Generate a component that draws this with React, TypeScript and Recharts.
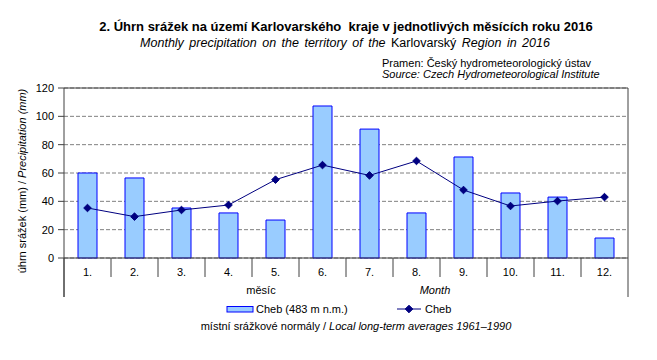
import React from 'react';
import { ComposedChart, Bar, Line, XAxis, YAxis, CartesianGrid } from 'recharts';

const months = ['1.', '2.', '3.', '4.', '5.', '6.', '7.', '8.', '9.', '10.', '11.', '12.'];
// Cheb 2016 monthly precipitation (mm)
const chebPrecip = [60, 56.5, 35.3, 31.8, 26.8, 107.3, 91, 31.8, 71.3, 45.9, 43, 14.1];
// local long-term averages 1961–1990 (mm)
const chebNormal = [35.3, 29.2, 33.9, 37.4, 55.3, 65.6, 58.3, 68.5, 48, 36.7, 40.2, 43];
const yTicks = [0, 20, 40, 60, 80, 100, 120];

const data = months.map((m, i) => ({ month: m, precip: chebPrecip[i], normal: chebNormal[i] }));

const W = 657;
const H = 360;
const PLOT = { left: 64, top: 88, right: 628, bottom: 258 };
const YAXIS_W = 40;
const XAXIS_H = 40;
const BW = (PLOT.right - PLOT.left) / months.length;
const FONT = '"Liberation Sans", Arial, sans-serif';
const FRAME = '#404040';

const MonthTick = (props: any) => {
  const { x, y, payload, index } = props;
  const lx = x - BW / 2;
  const rx = x + BW / 2;
  return (
    <g>
      {index > 0 && <line x1={lx} y1={y} x2={lx} y2={y + 19} stroke={FRAME} />}
      {index === 0 && <line x1={lx} y1={y} x2={lx} y2={y + 39} stroke={FRAME} />}
      {index === months.length - 1 && <line x1={rx} y1={y - 170} x2={rx} y2={y + 39} stroke={FRAME} />}
      <text x={x} y={y + 18} textAnchor="middle" fontSize={11} fontFamily={FONT} fill="#000">
        {payload.value}
      </text>
    </g>
  );
};

const Diamond = (props: any) => {
  const { cx, cy } = props;
  if (cx == null || cy == null) return null;
  const r = 3.8;
  return <polygon points={`${cx},${cy - r} ${cx + r},${cy} ${cx},${cy + r} ${cx - r},${cy}`} fill="#000080" stroke="#000080" />;
};

const App = () => {
  return (
    <div style={{ position: 'absolute', left: 0, top: 0, width: W, height: H, background: '#fff' }}>
      <ComposedChart
        width={W}
        height={H}
        data={data}
        margin={{ top: PLOT.top, right: W - PLOT.right, bottom: H - PLOT.bottom - XAXIS_H, left: PLOT.left - YAXIS_W }}
      >
        <CartesianGrid vertical={false} stroke="#808080" strokeDasharray="4 2" />
        <XAxis
          dataKey="month"
          height={XAXIS_H}
          tickSize={0}
          tickMargin={0}
          tick={<MonthTick />}
          axisLine={{ stroke: FRAME }}
          interval={0}
        />
        <YAxis
          width={YAXIS_W}
          domain={[0, 120]}
          ticks={yTicks}
          tickSize={6}
          tickMargin={4}
          tickLine={{ stroke: FRAME }}
          axisLine={{ stroke: FRAME }}
          tick={{ fontSize: 11, fontFamily: FONT, fill: '#000' }}
        />
        <Bar dataKey="precip" barSize={19} fill="#99CCFF" stroke="#0000FF" strokeWidth={1} isAnimationActive={false} />
        <Line
          dataKey="normal"
          type="linear"
          stroke="#000080"
          strokeWidth={1}
          dot={<Diamond />}
          activeDot={false}
          isAnimationActive={false}
        />
      </ComposedChart>
      <svg width={W} height={H} style={{ position: 'absolute', left: 0, top: 0, pointerEvents: 'none' }} fontFamily={FONT}>
        <line x1={PLOT.left} y1={PLOT.top} x2={PLOT.right} y2={PLOT.top} stroke={FRAME} />
        <line x1={PLOT.left} y1={PLOT.bottom} x2={PLOT.left} y2={PLOT.bottom + 39} stroke={FRAME} />
        <text x={346} y={31} textAnchor="middle" fontSize={13} fontWeight="bold" fill="#000" style={{ whiteSpace: 'pre' }}>
          {'2. Úhrn srážek na území Karlovarského  kraje v jednotlivých měsících roku 2016'}
        </text>
        <text x={345} y={47} textAnchor="middle" fontSize={12.5} wordSpacing={2} fill="#000">
          <tspan fontStyle="italic">Monthly precipitation on the territory of the </tspan>
          <tspan>Karlovarský</tspan>
          <tspan fontStyle="italic"> Region in 2016</tspan>
        </text>
        <text x={382} y={67} fontSize={11} fill="#000">Pramen: Český hydrometeorologický ústav</text>
        <text x={382} y={78} fontSize={11} fontStyle="italic" fill="#000">Source: Czech Hydrometeorological Institute</text>
        <text transform="translate(26,181) rotate(-90)" textAnchor="middle" fontSize={11} fill="#000">
          <tspan>úhrn srážek (mm) / </tspan>
          <tspan fontStyle="italic">Precipitation (mm)</tspan>
        </text>
        <text x={261} y={294} textAnchor="middle" fontSize={11} fill="#000">měsíc</text>
        <text x={435} y={294} textAnchor="middle" fontSize={11} fontStyle="italic" fill="#000">Month</text>
        <rect x={227} y={306.5} width={26} height={5.5} fill="#99CCFF" stroke="#0000FF" />
        <text x={256} y={313} fontSize={11} fill="#000">Cheb (483 m n.m.)</text>
        <line x1={397} y1={309} x2={421} y2={309} stroke="#000080" />
        <Diamond cx={409} cy={309} />
        <text x={425} y={313} fontSize={11} fill="#000">Cheb</text>
        <text x={356} y={330} textAnchor="middle" fontSize={11} fill="#000">
          <tspan>místní srážkové normály / </tspan>
          <tspan fontStyle="italic">Local long-term averages 1961–1990</tspan>
        </text>
      </svg>
    </div>
  );
};

export default App;
